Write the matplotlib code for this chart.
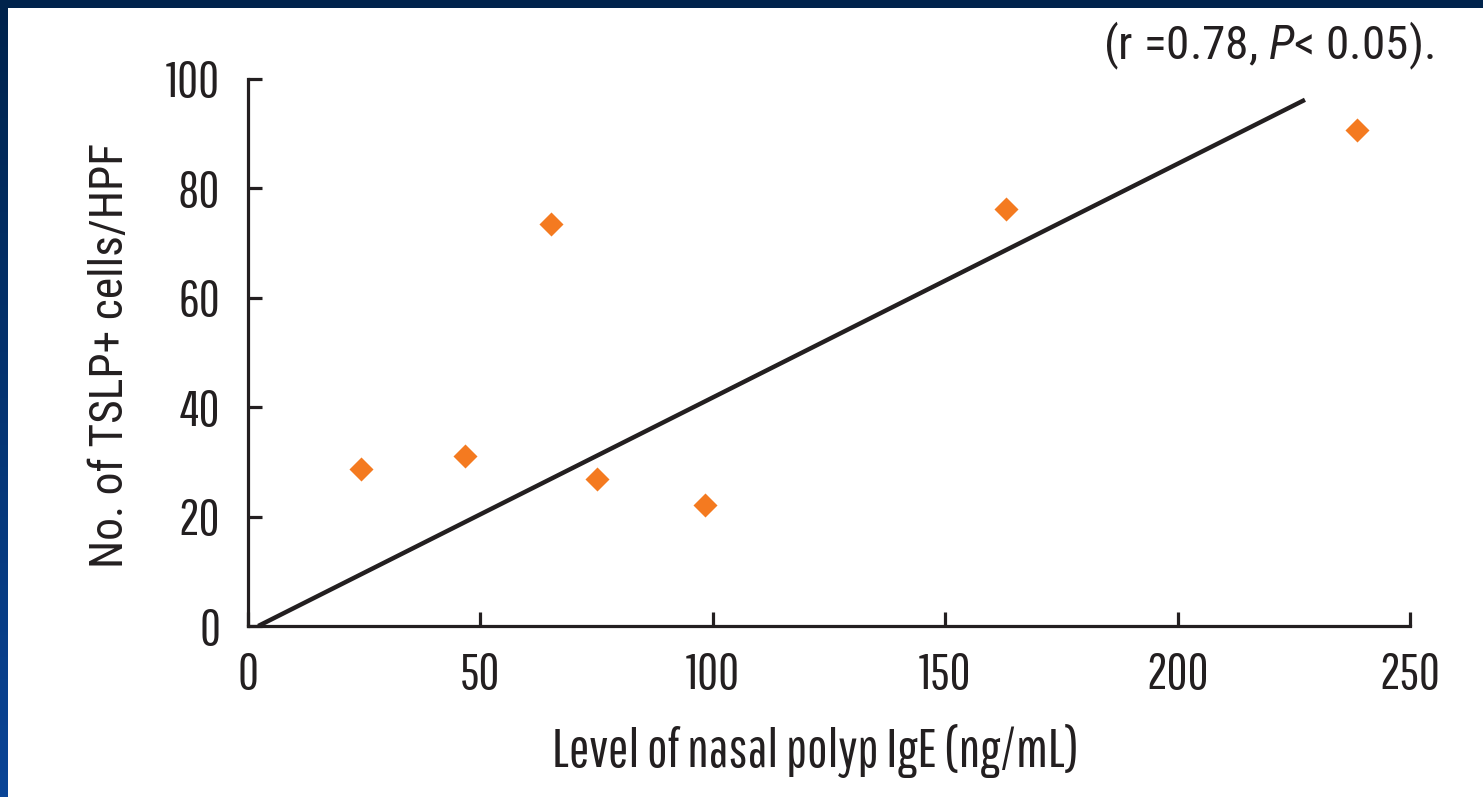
import numpy as np
import matplotlib
matplotlib.use("Agg")
import matplotlib.pyplot as plt
from matplotlib.colors import LinearSegmentedColormap

# Nasal polyp IgE vs TSLP+ cell counts
ige_levels = [24.3, 46.7, 65.2, 75.1, 98.3, 163.1, 238.6]
tslp_cells = [28.7, 31.1, 73.5, 26.9, 22.1, 76.2, 90.7]

# Regression line end points
fit_x = [2.2, 227.4]
fit_y = [0.0, 96.2]

x_ticks = [0, 50, 100, 150, 200, 250]
y_ticks = [0, 20, 40, 60, 80, 100]

NARROW = ["Pathway Gothic One", "Roboto Condensed", "DejaVu Sans"]
COND = ["Roboto Condensed", "DejaVu Sans"]
plt.rcParams["font.family"] = NARROW
plt.rcParams["mathtext.fontset"] = "custom"
plt.rcParams["mathtext.rm"] = "Roboto Condensed"
plt.rcParams["mathtext.it"] = "Roboto Condensed:italic"

INK = "#231F20"
W, H = 1483, 797
fig = plt.figure(figsize=(W / 100, H / 100), dpi=100)
fig.patch.set_facecolor("white")

# Slide frame: navy band on top and a blue gradient band on the left
frame_top = fig.add_axes([0, 1 - 8 / H, 1, 8 / H])
frame_top.set_axis_off()
frame_top.add_patch(plt.Rectangle((0, 0), 1, 1, color="#00234C",
                                  transform=frame_top.transAxes))

frame_left = fig.add_axes([0, 0, 8 / W, 1])
frame_left.set_axis_off()
grad = LinearSegmentedColormap.from_list("frame", ["#00234C", "#0A4597"])
frame_left.imshow(np.linspace(0, 1, 256).reshape(-1, 1), aspect="auto", cmap=grad,
                  extent=[0, 1, 0, 1])

ax = fig.add_axes([248 / W, (H - 626) / H, (1410 - 248) / W, (626 - 79) / H])
ax.scatter(ige_levels, tslp_cells, marker="D", s=150, color="#F47A20",
           linewidths=0, zorder=3)
ax.plot(fit_x, fit_y, color=INK, linewidth=3.2, solid_capstyle="butt", zorder=2)

ax.set_xlim(0, 250)
ax.set_ylim(0, 100)
ax.set_xticks(x_ticks)
ax.set_yticks(y_ticks)
for side in ("top", "right"):
    ax.spines[side].set_visible(False)
for side in ("left", "bottom"):
    ax.spines[side].set_linewidth(2.3)
    ax.spines[side].set_color(INK)
ax.tick_params(axis="both", direction="in", length=10, width=2.3, color=INK,
               labelsize=37, labelcolor=INK)
ax.tick_params(axis="x", pad=19)
ax.tick_params(axis="y", pad=20)

# Axis titles
fig.text(815 / W, 1 - 767 / H, "Level of nasal polyp IgE (ng/mL)", fontsize=39,
         color=INK, ha="center", va="baseline")
ylab = fig.text(110 / W, 1 - 355 / H, "No. of TSLP+ cells/HPF", fontsize=31,
                family=COND, color=INK, rotation=90, ha="center", va="center")

# Size the vertical title to span the plotted range
fig.canvas.draw()
span = ylab.get_window_extent().height
ylab.set_fontsize(31 * 424 / span)

fig.text(1434 / W, 1 - 46 / H, r"(r =0.78, $\mathit{P}$< 0.05).", fontsize=34,
         family=COND, color=INK, ha="right", va="center")

fig.savefig("out.png", dpi=100, facecolor="white")
